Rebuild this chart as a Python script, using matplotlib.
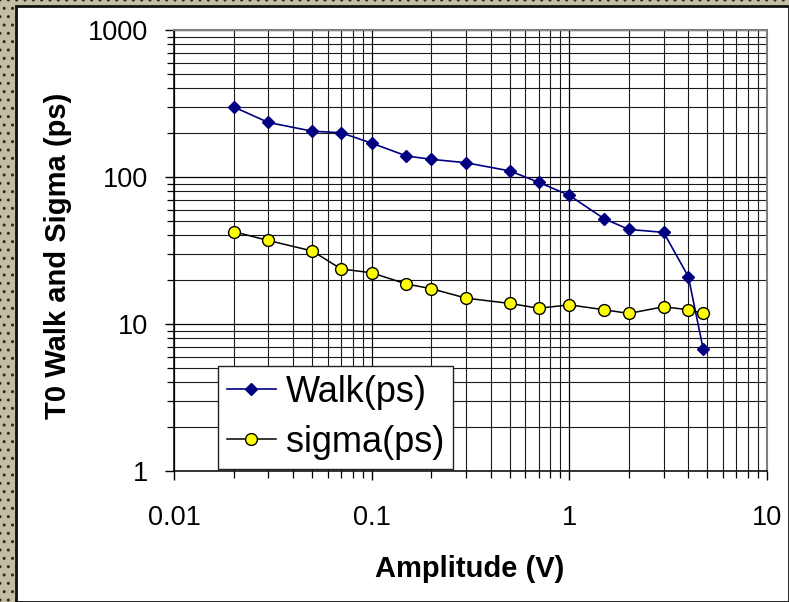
import matplotlib
matplotlib.use("Agg")
import matplotlib.pyplot as plt
from matplotlib.patches import Rectangle
from matplotlib.ticker import LogLocator, NullFormatter, FixedLocator, FixedFormatter

plt.rcParams['font.family'] = ['Liberation Sans', 'DejaVu Sans']

amplitude = [0.02, 0.03, 0.05, 0.07, 0.1, 0.15, 0.2, 0.3, 0.5, 0.7, 1.0, 1.5, 2.0, 3.0, 4.0, 4.75]
walk_ps = [300, 235, 205, 200, 170, 139, 132, 125, 110, 92, 75, 52, 44, 42, 21, 6.8]
sigma_ps = [42.5, 37, 31.4, 23.7, 22.3, 18.7, 17.4, 15.0, 13.8, 12.8, 13.5, 12.5, 11.8, 13.1, 12.5, 11.8]
x_ticks = [0.01, 0.1, 1, 10]
x_tick_labels = ["0.01", "0.1", "1", "10"]
y_ticks = [1, 10, 100, 1000]
y_tick_labels = ["1", "10", "100", "1000"]

W, H = 789, 602
fig = plt.figure(figsize=(W / 100, H / 100), dpi=100)
fig.patch.set_facecolor('#c2bea2')
# textured backdrop
fig.patches.append(Rectangle((0, 0), 1, 1, transform=fig.transFigure, facecolor='#c2bea2',
                             edgecolor='#2a2a22', hatch='..', linewidth=0, zorder=-20))
# white panel with dark border
fig.patches.append(Rectangle((16 / W, 0), 1 - 16 / W, 1 - 6 / H, transform=fig.transFigure,
                             facecolor='white', edgecolor='#111111', linewidth=2.0, zorder=-10))

ax = fig.add_axes([174 / W, 1 - 471 / H, (767 - 174) / W, (471 - 30) / H])
ax.set_zorder(5)
ax.set_xscale('log')
ax.set_yscale('log')
ax.set_xlim(0.01, 10)
ax.set_ylim(1, 1000)

ax.xaxis.set_major_locator(FixedLocator(x_ticks))
ax.xaxis.set_major_formatter(FixedFormatter(x_tick_labels))
ax.yaxis.set_major_locator(FixedLocator(y_ticks))
ax.yaxis.set_major_formatter(FixedFormatter(y_tick_labels))
ax.xaxis.set_minor_locator(LogLocator(base=10, subs=range(2, 10)))
ax.yaxis.set_minor_locator(LogLocator(base=10, subs=range(2, 10)))
ax.xaxis.set_minor_formatter(NullFormatter())
ax.yaxis.set_minor_formatter(NullFormatter())

ax.grid(True, which='major', color='#000000', linewidth=0.9)
ax.grid(True, which='minor', color='#1a1a1a', linewidth=0.8)
ax.set_axisbelow(True)

for s in ['left', 'bottom']:
    ax.spines[s].set_color('black')
    ax.spines[s].set_linewidth(1.1)
for s in ['right', 'top']:
    ax.spines[s].set_color('#808080')
    ax.spines[s].set_linewidth(1.5)

ax.tick_params(axis='both', which='major', direction='out', length=6.5, width=1.0,
               color='black', labelsize=19.5)
ax.tick_params(axis='both', which='minor', direction='out', length=5, width=0.9, color='black')
ax.tick_params(axis='x', which='major', pad=18)
ax.tick_params(axis='y', which='major', pad=12)

ax.plot(amplitude, walk_ps, color='#000080', linewidth=1.2, marker='D', markersize=6.5,
        markerfacecolor='#000080', markeredgecolor='#000080', label='Walk(ps)', zorder=3)
ax.plot(amplitude, sigma_ps, color='black', linewidth=1.1, marker='o', markersize=8.5,
        markerfacecolor='#ffff00', markeredgecolor='black', markeredgewidth=1.0,
        label='sigma(ps)', zorder=4)

ax.set_xlabel('Amplitude (V)', fontsize=21, fontweight='bold')
ax.set_ylabel('T0 Walk and Sigma (ps)', fontsize=21, fontweight='bold')
ax.xaxis.set_label_coords(0.499, -0.19)
ax.yaxis.set_label_coords(-0.172, 0.489)

leg = ax.legend(loc='lower left', bbox_to_anchor=((218 - 174) / 593, (471 - 469) / 441),
                fontsize=26, frameon=True, fancybox=False, framealpha=1.0,
                edgecolor='#222222', borderpad=0.25, labelspacing=0.42,
                handlelength=1.35, handletextpad=0.28, borderaxespad=0.0)
leg.get_frame().set_linewidth(1.0)

fig.savefig('out.png', dpi=100, facecolor=fig.get_facecolor())
